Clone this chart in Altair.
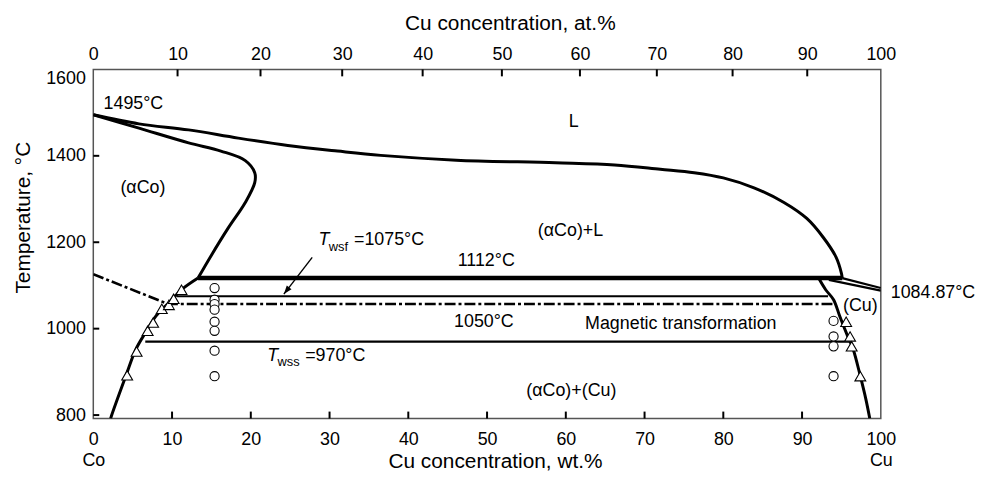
import altair as alt
import pandas as pd

# ---------------- data (x = wt.% Cu, t = °C) ----------------
# liquidus of (αCo)
liq_x = [0, 5.8, 12.1, 18.4, 24.7, 31.0, 36.5, 46.1, 58.7, 66.2, 72.0, 76.3, 80.0, 83.9, 87.7, 90.6, 92.7, 94.3, 95.0, 95.1]
liq_t = [1495, 1474, 1460, 1441, 1424, 1411, 1401, 1390, 1384, 1379, 1369, 1361, 1349, 1326, 1292, 1255, 1211, 1166, 1128, 1117]
# solidus of (αCo)
sol_x = [0, 5.8, 12.1, 16.2, 19.3, 20.5, 20.5, 19.3, 17.1, 15.0, 13.3]
sol_t = [1495, 1464, 1430, 1411, 1389, 1361, 1338, 1292, 1232, 1170, 1117]
# (αCo) solvus
cos_x = [13.3, 11.2, 9.6, 7.9, 6.7, 5.4, 4.2, 2.3, 2.2]
cos_t = [1117, 1090, 1060, 1028, 993, 952, 894, 798, 792]
# (Cu) solvus
cu_x = [92.1, 93.0, 94.0, 94.8, 95.8, 96.5, 97.4, 98.1, 98.6]
cu_t = [1117, 1090, 1067, 1028, 982, 952, 890, 837, 792]
# Cu-rich liquidus / solidus wedge
cul_x = [95.1, 100]
cul_t = [1117, 1094]
cus_x = [93.4, 100]
cus_t = [1113, 1088]
# isotherms
peri_x = [13.3, 95.1]
peri_t = [1117, 1117]
wsf_x = [10.6, 93.3]
wsf_t = [1075, 1075]
wss_x = [6.6, 96.3]
wss_t = [970, 970]
mag_x = [0, 9.5, 94.0]
mag_t = [1126, 1057, 1057]
# arrow to T_wsf line
arr_x = [27.8, 24.2]
arr_t = [1165, 1080]

# experimental points
tri_x = [4.3, 5.5, 6.9, 7.6, 8.7, 9.6, 10.2, 11.2, 95.6, 96.1, 96.3, 97.4]
tri_t = [892, 947, 995, 1014, 1046, 1055, 1069, 1090, 1016, 982, 959, 890]
circ_x = [15.4] * 8 + [94.0] * 4
circ_t = [1094, 1067, 1057, 1044, 1016, 995, 949, 890, 1018, 982, 959, 890]

# labels
c_text = ["1112°C", "1050°C", "Magnetic transformation", "(αCo)+(Cu)", "(αCo)+L", "L", "(αCo)", "(Cu)"]
c_x = [49.9, 49.6, 74.6, 60.7, 60.6, 61.0, 6.3, 97.4]
c_t = [1156, 1016, 1011, 855, 1225, 1478, 1326, 1053]
l_text = ["1495°C", "=1075°C", "=970°C"]
l_x = [1.3, 33.1, 26.9]
l_t = [1520, 1205, 936]
it_text = ["T", "T"]
it_x = [28.6, 22.1]
it_t = [1205, 936]
sub_text = ["wsf", "wss"]
sub_x = [29.9, 23.4]
sub_t = [1188, 922]
melt_text = ["1084.87°C"]
melt_x = [100]
melt_t = [1083]

# axes
wt_ticks = list(range(0, 101, 10))
t_ticks = [800, 1000, 1200, 1400, 1600]
at_ticks = list(range(0, 101, 10))
M_CU, M_CO = 63.546, 58.933


def at_to_wt(a):
    return 100 * a * M_CU / (a * M_CU + (100 - a) * M_CO)


top_vals = [at_to_wt(a) for a in at_ticks]

# ---------------- chart ----------------
W, H = 794, 352
xs = alt.Scale(domain=[0, 100], nice=False, zero=False)
ys = alt.Scale(domain=[792, 1600], nice=False, zero=False)
FONT = "Liberation Sans"


def path_df(named):
    frames = []
    for name, xv, tv in named:
        frames.append(pd.DataFrame({"x": xv, "t": tv, "i": range(len(xv)), "g": name}))
    return pd.concat(frames, ignore_index=True)


X0 = alt.X("x:Q", scale=xs, axis=None)
Y0 = alt.Y("t:Q", scale=ys, axis=None)

bottom_axis = alt.Axis(
    orient="bottom", values=wt_ticks,
    labelExpr="datum.value == 0 ? ['0', 'Co'] : datum.value == 100 ? ['100', 'Cu'] : datum.label",
    labelFlush=False, labelOverlap=False, ticks=False, tickSize=0, domain=False, grid=False,
    labelFontSize=18, labelPadding=12, labelBaseline="top", labelLineHeight=21, labelColor="black",
    title="Cu concentration, wt.%", titleFontSize=21, titleFontWeight="normal", titleColor="black",
    titleX=405, titleY=49, titleBaseline="alphabetic", titleAlign="center",
)
left_axis = alt.Axis(
    orient="left", values=t_ticks, format="d", labelFlush=True, labelOverlap=False,
    ticks=False, tickSize=0, domain=False, grid=False,
    labelFontSize=18, labelPadding=8, labelColor="black",
    title="Temperature, °C", titleFontSize=21, titleFontWeight="normal", titleColor="black",
    titleX=-64, titleY=149, titleAngle=270, titleBaseline="alphabetic", titleAlign="center",
)
top_axis = alt.Axis(
    orient="top", values=top_vals,
    labelExpr="format(round(100*(datum.value/63.546)/(datum.value/63.546+(100-datum.value)/58.933)), 'd')",
    labelFlush=False, labelOverlap=False, ticks=False, tickSize=0, domain=False, grid=False,
    labelFontSize=18, labelPadding=15, labelBaseline="middle", labelColor="black",
    title="Cu concentration, at.%", titleFontSize=21, titleFontWeight="normal", titleColor="black",
    titleX=420, titleY=-40, titleBaseline="alphabetic", titleAlign="center",
)

curves = alt.Chart(path_df([("liq", liq_x, liq_t), ("sol", sol_x, sol_t),
                            ("cos", cos_x, cos_t), ("cu", cu_x, cu_t)])).mark_line(
    color="black", strokeWidth=3, clip=True, interpolate="catmull-rom"
).encode(
    x=alt.X("x:Q", scale=xs, axis=bottom_axis),
    y=alt.Y("t:Q", scale=ys, axis=left_axis),
    detail="g:N", order="i:Q",
)

peri = alt.Chart(path_df([("peri", peri_x, peri_t)])).mark_line(
    color="black", strokeWidth=4.5, clip=True
).encode(x=X0, y=Y0, detail="g:N", order="i:Q")

thin = alt.Chart(path_df([("wsf", wsf_x, wsf_t), ("wss", wss_x, wss_t),
                          ("cul", cul_x, cul_t), ("cus", cus_x, cus_t)])).mark_line(
    color="black", strokeWidth=2.2, clip=True
).encode(x=X0, y=Y0, detail="g:N", order="i:Q")

mag = alt.Chart(path_df([("mag", mag_x, mag_t)])).mark_line(
    color="black", strokeWidth=2.6, strokeDash=[11, 3, 3, 3], clip=True
).encode(x=X0, y=Y0, detail="g:N", order="i:Q")

arrow = alt.Chart(path_df([("arr", arr_x, arr_t)])).mark_line(
    color="black", strokeWidth=1.4, clip=True
).encode(x=X0, y=Y0, detail="g:N", order="i:Q")

head = alt.Chart(pd.DataFrame({"x": arr_x[-1:], "t": arr_t[-1:]})).mark_point(
    shape="M0,0L-0.35,-1L0.35,-1Z", filled=True, color="black", size=300, angle=38, opacity=1
).encode(x=X0, y=Y0)

tris = alt.Chart(pd.DataFrame({"x": tri_x, "t": tri_t})).mark_point(
    shape="triangle-up", size=120, filled=True, fill="white", stroke="black", strokeWidth=1.1, opacity=1
).encode(x=X0, y=Y0)

circs = alt.Chart(pd.DataFrame({"x": circ_x, "t": circ_t})).mark_point(
    shape="circle", size=85, filled=True, fill="white", stroke="black", strokeWidth=1.1, opacity=1
).encode(x=X0, y=Y0)

# inward tick marks
bt = alt.Chart(pd.DataFrame({"x": wt_ticks[1:-1]})).mark_rule(color="black", strokeWidth=2).encode(
    x=X0, y=alt.value(H), y2=alt.value(H - 7))
tt = alt.Chart(pd.DataFrame({"x": top_vals[1:-1]})).mark_rule(color="black", strokeWidth=2).encode(
    x=alt.X("x:Q", scale=xs, axis=top_axis), y=alt.value(0), y2=alt.value(7))
lt = alt.Chart(pd.DataFrame({"t": t_ticks[:-1]})).mark_rule(color="black", strokeWidth=2).encode(
    y=Y0, x=alt.value(0), x2=alt.value(6))

# texts
ctext = alt.Chart(pd.DataFrame({"x": c_x, "t": c_t, "s": c_text})).mark_text(
    font=FONT, fontSize=18, color="black", align="center", baseline="middle"
).encode(x=X0, y=Y0, text="s:N")
ltext = alt.Chart(pd.DataFrame({"x": l_x, "t": l_t, "s": l_text})).mark_text(
    font=FONT, fontSize=18, color="black", align="left", baseline="middle"
).encode(x=X0, y=Y0, text="s:N")
ittext = alt.Chart(pd.DataFrame({"x": it_x, "t": it_t, "s": it_text})).mark_text(
    font=FONT, fontSize=18, fontStyle="italic", color="black", align="left", baseline="middle"
).encode(x=X0, y=Y0, text="s:N")
subtext = alt.Chart(pd.DataFrame({"x": sub_x, "t": sub_t, "s": sub_text})).mark_text(
    font=FONT, fontSize=13, color="black", align="left", baseline="middle"
).encode(x=X0, y=Y0, text="s:N")
melttext = alt.Chart(pd.DataFrame({"x": melt_x, "t": melt_t, "s": melt_text})).mark_text(
    font=FONT, fontSize=18, color="black", align="left", baseline="middle", dx=10
).encode(x=X0, y=Y0, text="s:N")

chart = alt.layer(
    curves, peri, thin, mag, arrow, head, tris, circs, bt, tt, lt,
    ctext, ltext, ittext, subtext, melttext,
).resolve_axis(x="independent", y="independent").properties(
    width=W, height=H,
    autosize=alt.AutoSizeParams(type="none"),
    padding={"left": 86, "top": 60, "right": 99, "bottom": 52},
).configure(font=FONT).configure_view(stroke="#555", strokeWidth=1.5)

chart.save("out.html", embed_options={"renderer": "svg", "actions": False})
